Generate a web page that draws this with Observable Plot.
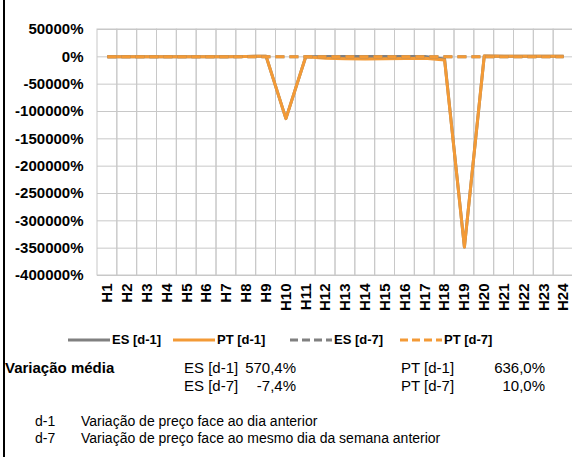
<!DOCTYPE html>
<html>
<head>
<meta charset="utf-8">
<script src="https://cdn.jsdelivr.net/npm/d3@7"></script>
<script src="https://cdn.jsdelivr.net/npm/@observablehq/plot@0.6"></script>
<style>
  html, body { margin: 0; padding: 0; overflow: hidden; background: #fff; }
  body { width: 572px; height: 457px; position: relative; font-family: "Liberation Sans", Arial, sans-serif; color: #000; }
  #chart { position: absolute; left: 0; top: 0; width: 580px; }
  #chart svg { max-width: none !important; }
  .border { position: absolute; left: 3px; top: 0; width: 2px; height: 457px; background: #000; }
  .abs { position: absolute; white-space: nowrap; }
  .leg { font-weight: bold; font-size: 13px; line-height: 15px; display: flex; align-items: center; }
  .leg svg { margin-right: 2px; }
  .st { font-size: 15px; line-height: 17px; }
  .fn { font-size: 14px; line-height: 16px; }
</style>
</head>
<body>
<div id="chart"></div>
<div class="border"></div>
<div id="legend"></div>
<div class="abs st" style="left:5px; top:359px; font-weight:bold;">Variação média</div>
<div class="abs st" style="left:184px; top:359px;">ES [d-1]</div>
<div class="abs st" style="left:240px; top:359px; width:56px; text-align:right;">570,4%</div>
<div class="abs st" style="left:184px; top:377px;">ES [d-7]</div>
<div class="abs st" style="left:240px; top:377px; width:56px; text-align:right;">-7,4%</div>
<div class="abs st" style="left:401px; top:359px;">PT [d-1]</div>
<div class="abs st" style="left:489px; top:359px; width:56px; text-align:right;">636,0%</div>
<div class="abs st" style="left:401px; top:377px;">PT [d-7]</div>
<div class="abs st" style="left:489px; top:377px; width:56px; text-align:right;">10,0%</div>
<div class="abs fn" style="left:35px; top:413px;">d-1</div>
<div class="abs fn" style="left:81px; top:413px;">Variação de preço face ao dia anterior</div>
<div class="abs fn" style="left:35px; top:430px;">d-7</div>
<div class="abs fn" style="left:81px; top:430px;">Variação de preço face ao mesmo dia da semana anterior</div>
<script>
const hours = ["H1","H2","H3","H4","H5","H6","H7","H8","H9","H10","H11","H12","H13","H14","H15","H16","H17","H18","H19","H20","H21","H22","H23","H24"];
const esD1 = [0, 0, 0, 0, 0, 0, 300, 800, 1200, -113000, 0, 500, 800, 800, 800, 600, 500, -4000, -348000, 1500, 1000, 1000, 1000, 1000];
const ptD1 = [0, 0, 0, 0, 0, 0, 300, 800, 1200, -113000, 0, -2500, -3500, -4000, -3500, -3000, -2500, -6000, -348000, 1500, 1000, 1000, 1000, 1000];
const esD7 = [-10, -8, -5, -6, -9, -12, -15, -10, -5, -4, -6, -8, -7, -6, -5, -6, -7, -9, -8, -6, -7, -8, -9, -10];
const ptD7 = [8, 9, 10, 12, 11, 10, 9, 8, 10, 12, 11, 10, 9, 10, 11, 12, 10, 9, 10, 11, 10, 9, 10, 9];
const yTicks = [50000, 0, -50000, -100000, -150000, -200000, -250000, -300000, -350000, -400000];
const seriesNames = ["ES [d-1]", "PT [d-1]", "ES [d-7]", "PT [d-7]"];
const seriesColors = ["#808080", "#F39A36", "#808080", "#F39A36"];
const seriesDash = [null, null, "9,5", "9,5"];
const seriesValues = [esD1, ptD1, esD7, ptD7];

const series = seriesNames.map((name, i) => ({
  name, color: seriesColors[i], dash: seriesDash[i],
  rows: hours.map((h, j) => ({hour: h, value: seriesValues[i][j]}))
}));

const chart = Plot.plot({
  width: 580,
  height: 330,
  marginLeft: 97,
  marginRight: 7,
  marginTop: 29,
  marginBottom: 55,
  style: {fontFamily: "'Liberation Sans', Arial, sans-serif", color: "#000", background: "transparent", maxWidth: "none"},
  x: {type: "band", domain: hours, padding: 0, round: false},
  y: {domain: [-400000, 50000]},
  marks: [
    Plot.ruleY(yTicks, {stroke: "#c8c8c8", strokeWidth: 1}),
    Plot.cell(hours, {x: d => d, fill: "none", stroke: "#c8c8c8", strokeWidth: 1}),
    Plot.axisY({ticks: yTicks, tickFormat: d => d + "%", tickSize: 0, tickPadding: 14, fontSize: 15, fontWeight: "bold", label: null}),
    Plot.axisX({tickRotate: -90, tickSize: 0, tickPadding: 8, fontSize: 15, fontWeight: "bold", label: null}),
    ...series.map(s => Plot.lineY(s.rows, {x: "hour", y: "value", stroke: s.color, strokeWidth: 3, strokeDasharray: s.dash, strokeLinejoin: "round", strokeLinecap: "butt"}))
  ]
});
document.getElementById("chart").appendChild(chart);

// Legend
const legendPos = [68, 173, 290, 400];
const legend = document.getElementById("legend");
series.forEach((s, i) => {
  const div = document.createElement("div");
  div.className = "abs leg";
  div.style.left = legendPos[i] + "px";
  div.style.top = "332px";
  const sw = d3.create("svg").attr("width", 42).attr("height", 6);
  sw.append("line").attr("x1", 0).attr("x2", 42).attr("y1", 3).attr("y2", 3)
    .attr("stroke", s.color).attr("stroke-width", 3)
    .attr("stroke-dasharray", s.dash ? "8,4" : null);
  div.appendChild(sw.node());
  const t = document.createElement("span");
  t.textContent = s.name;
  div.appendChild(t);
  legend.appendChild(div);
});
</script>
</body>
</html>
